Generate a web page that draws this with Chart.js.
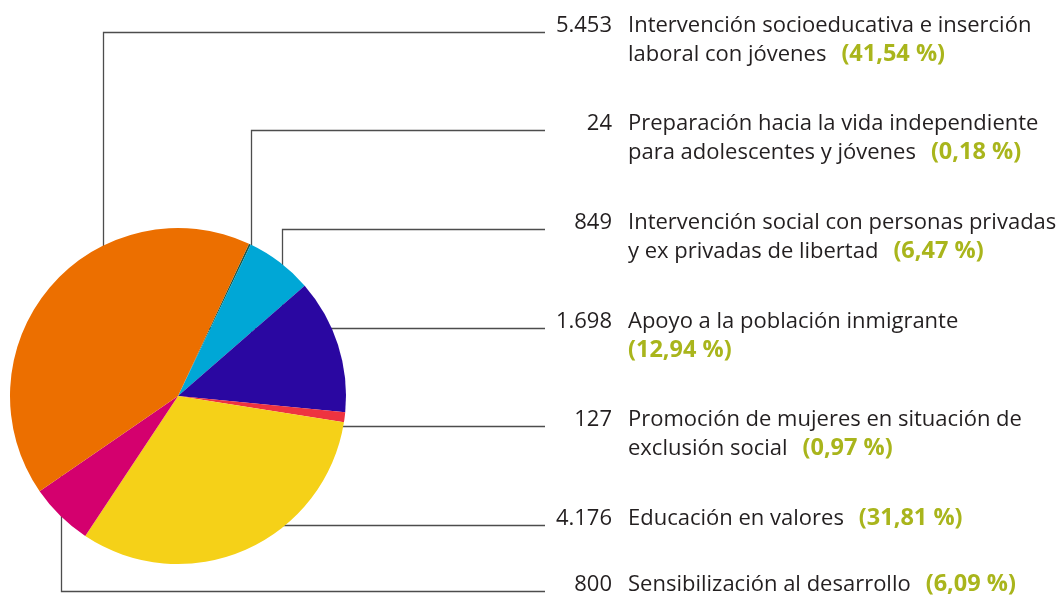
<!DOCTYPE html>
<html>
<head>
<meta charset="utf-8">
<script src="https://cdn.jsdelivr.net/npm/chart.js@4/dist/chart.umd.min.js"></script>
<style>
  html, body { margin: 0; padding: 0; background: #ffffff; }
  #wrap { position: relative; width: 1059px; height: 597px; }
</style>
</head>
<body>
<div id="wrap"><canvas id="c" width="1059" height="597"></canvas></div>
<script>
// ---- Data (pie order, clockwise from the thin slice near the top) ----
const categories = [
  "Preparación hacia la vida independiente para adolescentes y jóvenes",
  "Intervención social con personas privadas y ex privadas de libertad",
  "Apoyo a la población inmigrante",
  "Promoción de mujeres en situación de exclusión social",
  "Educación en valores",
  "Sensibilización al desarrollo",
  "Intervención socioeducativa e inserción laboral con jóvenes"
];
const values = [24, 849, 1698, 127, 4176, 800, 5453];
const percents = [0.18, 6.47, 12.94, 0.97, 31.81, 6.09, 41.54];
const labelLines = [
  ["Preparación hacia la vida independiente", "para adolescentes y jóvenes"],
  ["Intervención social con personas privadas", "y ex privadas de libertad"],
  ["Apoyo a la población inmigrante", ""],
  ["Promoción de mujeres en situación de", "exclusión social"],
  ["Educación en valores"],
  ["Sensibilización al desarrollo"],
  ["Intervención socioeducativa e inserción", "laboral con jóvenes"]
];
const colors = ["#1d5a48", "#00a7d6", "#2a07a1", "#ee3340", "#f5d118", "#d4006e", "#ec6f00"];

// ---- Layout of the callouts (top to bottom) ----
const rowOrder = [6, 0, 1, 2, 3, 4, 5];
const leaders = [
  { y: 32.5,  x: 103.5 },
  { y: 130.5, x: 251.5 },
  { y: 229.5, x: 282.5 },
  { y: 328.5 },
  { y: 426.5 },
  { y: 525.5 },
  { y: 591.5, x: 61.5 }
];
const lineEndX = 545;
const numRightX = 612;
const textLeftX = 628;
const lineGap = 29;
const FONT = "'Open Sans', 'DejaVu Sans', sans-serif";
const FONT_SIZE = 22;
const PCT_SIZE = 23.5;

function fmtNum(n) {
  return String(n).replace(/\B(?=(\d{3})+(?!\d))/g, ".");
}
function fmtPct(p) {
  return "(" + p.toFixed(2).replace(".", ",") + " %)";
}

const calloutPlugin = {
  id: "callouts",
  beforeDatasetsDraw(chart) {
    const ctx = chart.ctx;
    const arc = chart.getDatasetMeta(0).data[0];
    const cx = arc.x, cy = arc.y;
    ctx.save();
    ctx.strokeStyle = "#4d4d4d";
    ctx.lineWidth = 1.3;
    rowOrder.forEach((idx, row) => {
      const L = leaders[row];
      ctx.beginPath();
      if (L.x !== undefined) {
        ctx.moveTo(L.x, cy);
        ctx.lineTo(L.x, L.y);
      } else {
        ctx.moveTo(cx, L.y);
      }
      ctx.lineTo(lineEndX, L.y);
      ctx.stroke();
    });
    ctx.restore();
  },
  afterDraw(chart) {
    const ctx = chart.ctx;
    ctx.save();
    ctx.textBaseline = "alphabetic";
    rowOrder.forEach((idx, row) => {
      const L = leaders[row];
      const base = Math.round(L.y) - 1;
      ctx.font = FONT_SIZE + "px " + FONT;
      ctx.fillStyle = "#231f20";
      ctx.textAlign = "right";
      ctx.fillText(fmtNum(values[idx]), numRightX, base);
      ctx.textAlign = "left";
      const lines = labelLines[idx];
      let lastY = base, lastW = 0;
      lines.forEach((t, i) => {
        const y = base + i * lineGap;
        ctx.font = FONT_SIZE + "px " + FONT;
        ctx.fillStyle = "#231f20";
        ctx.fillText(t, textLeftX, y);
        lastY = y;
        lastW = t ? ctx.measureText(t).width + 15 : 0;
      });
      ctx.font = "bold " + PCT_SIZE + "px " + FONT;
      ctx.fillStyle = "#a9b51c";
      ctx.fillText(fmtPct(percents[idx]), textLeftX + lastW, lastY);
    });
    ctx.restore();
  }
};

new Chart(document.getElementById("c"), {
  type: "pie",
  data: {
    labels: categories,
    datasets: [{
      data: values,
      backgroundColor: colors,
      borderWidth: 0
    }]
  },
  options: {
    responsive: false,
    animation: false,
    rotation: 25,
    radius: 168,
    layout: { padding: { left: 10, right: 713, top: 228, bottom: 33 } },
    plugins: {
      legend: { display: false },
      tooltip: { enabled: false }
    }
  },
  plugins: [calloutPlugin]
});
</script>
</body>
</html>
